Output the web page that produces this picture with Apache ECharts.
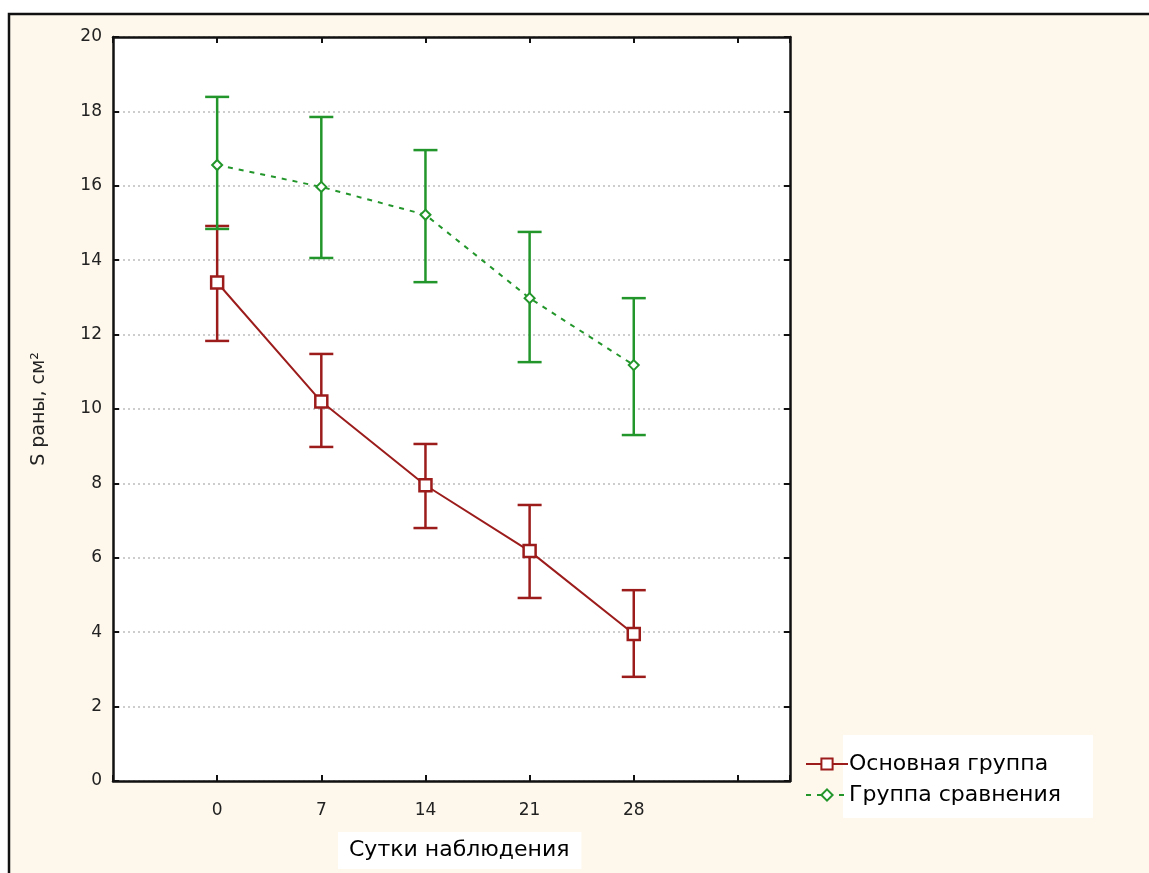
<!DOCTYPE html>
<html>
<head>
<meta charset="utf-8">
<script src="https://cdn.jsdelivr.net/npm/echarts@6/dist/echarts.min.js"></script>
<style>
  html, body { margin: 0; padding: 0; background: #fff; }
  #main { width: 1149px; height: 873px; }
</style>
</head>
<body>
<div id="main"></div>
<script>
  // данные
  var days = [0, 7, 14, 21, 28];
  var mainMean = [13.4, 10.2, 7.95, 6.18, 3.95];
  var mainLow = [11.83, 8.98, 6.8, 4.92, 2.8];
  var mainHigh = [14.92, 11.48, 9.06, 7.42, 5.13];
  var compMean = [16.56, 15.97, 15.22, 12.98, 11.18];
  var compLow = [14.84, 14.06, 13.41, 11.26, 9.3];
  var compHigh = [18.39, 17.85, 16.96, 14.76, 12.98];
  var yTicks = [0, 2, 4, 6, 8, 10, 12, 14, 16, 18, 20];

  var RED = '#9c1c1c';
  var GREEN = '#23962b';
  var FONT = '"DejaVu Sans", Arial, sans-serif';

  var myChart = echarts.init(document.getElementById('main'));

  function pairs(xs, ys) {
    return xs.map(function (x, i) { return [x, ys[i]]; });
  }

  // усы: вертикальная линия + засечки
  function errorBars(color) {
    return function (params, api) {
      var top = api.coord([api.value(0), api.value(2)]);
      var bot = api.coord([api.value(0), api.value(1)]);
      var w = 12;
      var st = { stroke: color, lineWidth: 2.5 };
      return {
        type: 'group',
        children: [
          { type: 'line', shape: { x1: top[0], y1: top[1], x2: bot[0], y2: bot[1] }, style: st },
          { type: 'line', shape: { x1: top[0] - w, y1: top[1], x2: top[0] + w, y2: top[1] }, style: st },
          { type: 'line', shape: { x1: bot[0] - w, y1: bot[1], x2: bot[0] + w, y2: bot[1] }, style: st }
        ]
      };
    };
  }

  var axisText = { color: '#222', fontFamily: FONT, fontSize: 17 };
  var frameLine = { onZero: false, show: true, lineStyle: { color: '#111', width: 2.5 } };
  var frameTick = { show: true, inside: true, length: 6, lineStyle: { color: '#111', width: 2 } };

  var option = {
    backgroundColor: '#fff',
    animation: false,
    graphic: [
      { type: 'rect', shape: { x: 9, y: 14, width: 1150, height: 870 }, style: { fill: '#fef8ec', stroke: '#111', lineWidth: 2.5 }, z: -10 },
      { type: 'rect', shape: { x: 843, y: 735, width: 250, height: 83 }, style: { fill: '#fff' }, z: -5 }
    ],
    title: {
      text: 'Сутки наблюдения',
      left: 338,
      top: 832,
      backgroundColor: '#fff',
      padding: [7, 12, 8, 11],
      textStyle: { fontFamily: FONT, fontSize: 22, fontWeight: 'normal', color: '#000' }
    },
    legend: {
      orient: 'vertical',
      left: 800,
      top: 748,
      itemWidth: 42,
      itemHeight: 14,
      itemGap: 9,
      textStyle: { fontFamily: FONT, fontSize: 22, color: '#000', padding: [0, 0, 0, -4] },
      data: ['Основная группа', 'Группа сравнения']
    },
    grid: { left: 113, top: 37, width: 677, height: 744, show: true, backgroundColor: '#fff', borderWidth: 0 },
    xAxis: [{
      type: 'value',
      min: -7,
      max: 38.5,
      interval: 7,
      axisLine: frameLine,
      axisTick: frameTick,
      axisLabel: Object.assign({
        margin: 21,
        formatter: function (v) { return days.indexOf(v) >= 0 ? String(v) : ''; }
      }, axisText),
      splitLine: { show: false }
    }, {
      type: 'value',
      position: 'top',
      min: -7,
      max: 38.5,
      interval: 7,
      axisLine: frameLine,
      axisTick: frameTick,
      axisLabel: { show: false },
      splitLine: { show: false }
    }],
    yAxis: [{
      type: 'value',
      min: yTicks[0],
      max: yTicks[yTicks.length - 1],
      interval: 2,
      name: 'S раны, см²',
      nameLocation: 'middle',
      nameGap: 64,
      nameTextStyle: { fontFamily: FONT, fontSize: 19, color: '#222' },
      axisLine: frameLine,
      axisTick: frameTick,
      axisLabel: Object.assign({ margin: 11 }, axisText),
      splitLine: { show: true, lineStyle: { color: '#bdbdbd', type: [2, 3], width: 1.5 } }
    }, {
      type: 'value',
      position: 'right',
      min: yTicks[0],
      max: yTicks[yTicks.length - 1],
      interval: 2,
      axisLine: frameLine,
      axisTick: frameTick,
      axisLabel: { show: false },
      splitLine: { show: false }
    }],
    series: [{
      type: 'custom',
      name: 'mainErr',
      renderItem: errorBars(RED),
      data: days.map(function (d, i) { return [d, mainLow[i], mainHigh[i]]; }),
      z: 2
    }, {
      type: 'custom',
      name: 'compErr',
      renderItem: errorBars(GREEN),
      data: days.map(function (d, i) { return [d, compLow[i], compHigh[i]]; }),
      z: 2
    }, {
      name: 'Основная группа',
      type: 'line',
      data: pairs(days, mainMean),
      symbol: 'rect',
      symbolSize: 12,
      itemStyle: { color: '#fff', borderColor: RED, borderWidth: 2.5 },
      lineStyle: { color: RED, width: 2 },
      z: 3
    }, {
      name: 'Группа сравнения',
      type: 'line',
      data: pairs(days, compMean),
      symbol: 'diamond',
      symbolSize: 10,
      itemStyle: { color: '#fff', borderColor: GREEN, borderWidth: 2 },
      lineStyle: { color: GREEN, width: 2, type: [5, 6] },
      z: 3
    }]
  };

  myChart.setOption(option);
</script>
</body>
</html>
